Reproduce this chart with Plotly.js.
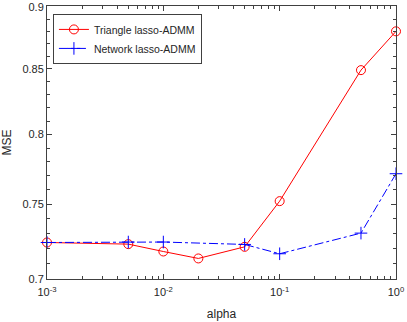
<!DOCTYPE html>
<html>
<head>
<meta charset="utf-8">
<script src="https://cdn.plot.ly/plotly-3.0.1.min.js"></script>
<style>
  html, body { margin: 0; padding: 0; background: #fff; }
  #plot { width: 407px; height: 322px; }
</style>
</head>
<body>
<div id="plot"></div>
<script>
// values
const alphaTriangle = [0.001, 0.005, 0.01, 0.02, 0.05, 0.1, 0.5, 1];
const mseTriangle = [0.724, 0.7229, 0.718, 0.7134, 0.7211, 0.7522, 0.849, 0.88];
const alphaNetwork = [0.001, 0.005, 0.01, 0.05, 0.1, 0.5, 1];
const mseNetwork = [0.724, 0.7243, 0.7243, 0.7227, 0.7165, 0.7303, 0.7715];

const xTickVals = [0.001, 0.01, 0.1, 1];
const xTickText = ['10<sup>-3</sup>', '10<sup>-2</sup>', '10<sup>-1</sup>', '10<sup>0</sup>'];
const yTickVals = [0.7, 0.75, 0.8, 0.85, 0.9];
const yTickText = ['0.7', '0.75', '0.8', '0.85', '0.9'];

// minor ticks, matlab style
const xMinor = [];
for (let d = -3; d < 0; d++) {
    for (let k = 2; k <= 9; k++) xMinor.push(k * Math.pow(10, d));
}
const yMinor = [];
for (let v = 71; v < 90; v++) {
    if (v % 5 !== 0) yMinor.push(v / 100);
}

const axisColor = '#404040';
const textColor = '#262626';
const eps = 4e-4; // so the end ticks are not dropped

const trace_triangle = {
    x: alphaTriangle, y: mseTriangle,
    type: 'scatter', mode: 'lines+markers',
    name: 'Triangle lasso-ADMM',
    cliponaxis: false,
    line: {color: 'rgb(255,0,0)', width: 1},
    marker: {symbol: 'circle-open', size: 9, color: 'rgb(255,0,0)', line: {width: 1}}
};
const trace_network = {
    x: alphaNetwork, y: mseNetwork,
    type: 'scatter', mode: 'lines+markers',
    name: 'Network lasso-ADMM',
    cliponaxis: false,
    line: {color: 'rgb(0,0,255)', width: 1, dash: 'dashdot'},
    marker: {symbol: 'cross-thin-open', size: 9, color: 'rgb(0,0,255)', line: {width: 1, color: 'rgb(0,0,255)'}}
};

const layout = {
    width: 407, height: 322,
    margin: {l: 47, r: 11, t: 6, b: 43},
    paper_bgcolor: '#fff', plot_bgcolor: '#fff',
    font: {family: 'Liberation Sans, Arial, sans-serif', size: 11, color: textColor},
    showlegend: true,
    legend: {
        x: 0.017, y: 0.971, xanchor: 'left', yanchor: 'top',
        bgcolor: '#fff', bordercolor: axisColor, borderwidth: 1,
        font: {size: 10.5, color: textColor},
        tracegroupgap: 0
    },
    xaxis: {
        type: 'log',
        range: [-3 - 1e-5, 0 + 1e-5],
        tickvals: xTickVals, ticktext: xTickText,
        ticks: 'inside', ticklen: 5, tickcolor: axisColor,
        ticklabelstandoff: 3,
        showline: true, linecolor: axisColor, linewidth: 1, mirror: 'allticks',
        showgrid: false, zeroline: false,
        minor: {tickvals: xMinor, ticks: 'inside', ticklen: 3, tickcolor: axisColor, showgrid: false},
        title: {text: 'alpha', font: {size: 12}, standoff: 12}
    },
    yaxis: {
        type: 'log',
        range: [Math.log10(0.7) - 1e-5, Math.log10(0.9) + eps],
        tickvals: yTickVals, ticktext: yTickText,
        ticks: 'inside', ticklen: 5, tickcolor: axisColor,
        showline: true, linecolor: axisColor, linewidth: 1, mirror: 'allticks',
        showgrid: false, zeroline: false,
        minor: {tickvals: yMinor, ticks: 'inside', ticklen: 3, tickcolor: axisColor, showgrid: false},
        title: {text: 'MSE', font: {size: 12}, standoff: 8}
    }
};

Plotly.newPlot('plot', [trace_triangle, trace_network], layout, {staticPlot: true});
</script>
</body>
</html>
